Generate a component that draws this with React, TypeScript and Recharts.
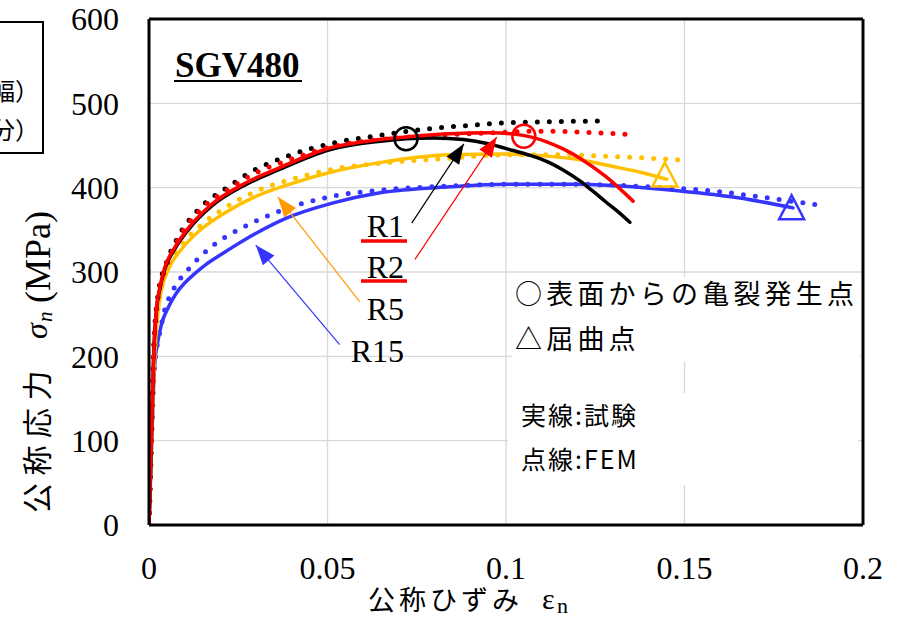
import React from 'react';
import { ComposedChart, Line, Scatter, XAxis, YAxis, CartesianGrid, ReferenceLine } from 'recharts';

const SERIF = '"Liberation Serif", "Times New Roman", serif';
const JP = '"Noto Sans CJK JP", "Noto Sans", sans-serif';

const BLACK = '#000000';
const RED = '#ff0000';
const ORANGE = '#ffc000';
const ORANGE_ARROW = '#ff9900';
const BLUE = '#3535ff';

const xTicks = [0, 0.05, 0.1, 0.15, 0.2];
const yTicks = [0, 100, 200, 300, 400, 500, 600];

// R1 試験 (黒 実線)
const r1TestStrain = [0, 0.0004, 0.0008, 0.0013, 0.0021, 0.003, 0.0044, 0.0072, 0.011, 0.0175, 0.0268, 0.0362, 0.0506, 0.0647, 0.072, 0.08, 0.088, 0.095, 0.102, 0.107, 0.112, 0.116, 0.1207, 0.124, 0.128, 0.1315, 0.1347];
const r1TestStress = [0, 60, 125, 200, 255, 279, 303, 327, 350, 378, 403, 421, 445, 455, 458, 459, 457, 452, 444, 438, 430, 421, 408, 397, 383, 371, 359];
// R1 FEM (黒 点線)
const r1FemStrain = [0, 0.0004, 0.0008, 0.0013, 0.0026, 0.0049, 0.0082, 0.0138, 0.0222, 0.0287, 0.0385, 0.0516, 0.0647, 0.0786, 0.09, 0.1, 0.11, 0.1263];
const r1FemStress = [0, 65, 130, 207, 275, 311, 342, 374, 401, 419, 437, 453, 462, 470, 474, 477, 478, 479];

// R2 試験 (赤 実線)
const r2TestStrain = [0, 0.0004, 0.0008, 0.0013, 0.0021, 0.003, 0.0044, 0.0072, 0.011, 0.0175, 0.0268, 0.0362, 0.0506, 0.0647, 0.0743, 0.0843, 0.0955, 0.1048, 0.111, 0.116, 0.1207, 0.128, 0.1356];
const r2TestStress = [0, 60, 125, 200, 257, 281, 305, 329, 352, 380, 405, 423, 447, 457, 461, 464, 465, 462, 455, 446, 435, 413, 384];
// R2 FEM (赤 点線)
const r2FemStrain = [0, 0.0004, 0.0008, 0.0013, 0.0026, 0.0049, 0.0082, 0.0138, 0.0222, 0.0287, 0.0385, 0.0516, 0.0647, 0.08, 0.095, 0.11, 0.12, 0.1347];
const r2FemStress = [0, 65, 130, 205, 272, 307, 339, 371, 398, 415, 432, 449, 457, 462, 465, 467, 466, 463];

// R5 試験 (橙 実線)
const r5TestStrain = [0, 0.0004, 0.0008, 0.0014, 0.0026, 0.0035, 0.0054, 0.0091, 0.0147, 0.0212, 0.0296, 0.0408, 0.0506, 0.065, 0.0843, 0.1, 0.11, 0.1207, 0.13, 0.138, 0.145];
const r5TestStress = [0, 55, 115, 185, 255, 279, 303, 327, 351, 370, 389, 406, 418, 430, 439, 440, 438, 433, 425, 418, 410];
// R5 FEM (橙 点線)
const r5FemStrain = [0, 0.0004, 0.0008, 0.0014, 0.0026, 0.0035, 0.0054, 0.0091, 0.0147, 0.0212, 0.0296, 0.0408, 0.0516, 0.065, 0.0843, 0.1, 0.115, 0.13, 0.1487];
const r5FemStress = [0, 55, 115, 187, 259, 284, 308, 332, 356, 376, 395, 411, 422, 429, 435, 439, 439, 437, 433];

// R15 試験 (青 実線)
const r15TestStrain = [0, 0.0004, 0.0008, 0.0012, 0.0016, 0.0024, 0.0035, 0.0054, 0.0075, 0.01, 0.0128, 0.016, 0.0203, 0.0296, 0.038, 0.0516, 0.0647, 0.0843, 0.1, 0.12, 0.1487, 0.165, 0.1804];
const r15TestStress = [0, 50, 105, 155, 190, 216, 238, 258, 274, 287, 298, 309, 321, 345, 363, 382, 394, 401, 404, 404, 396, 388, 376];
// R15 FEM (青 点線)
const r15FemStrain = [0, 0.0004, 0.0008, 0.0012, 0.0016, 0.0021, 0.003, 0.0044, 0.0068, 0.011, 0.0175, 0.0259, 0.0352, 0.0516, 0.0647, 0.085, 0.1, 0.12, 0.14, 0.158, 0.173, 0.1865];
const r15FemStress = [0, 55, 110, 160, 190, 208, 228, 255, 279, 303, 330, 352, 370, 390, 397, 402, 404, 404, 401, 396, 388, 380];

// ○ 表面からの亀裂発生点
const crackStrain = [0.072, 0.105];
const crackStress = [458, 461];
const crackColors = [BLACK, RED];

// △ 屈曲点
const bucklingStrain = [0.1445, 0.18];
const bucklingStress = [411, 372];
const bucklingColors = [ORANGE, BLUE];

// 引出し矢印 (R1, R2, R5, R15)
const arrowTailStrain = [0.0736, 0.0745, 0.059, 0.0534];
const arrowTailStress = [358, 315, 265, 214];
const arrowTipStrain = [0.0882, 0.0974, 0.0361, 0.0299];
const arrowTipStress = [452, 460, 389, 332];
const arrowColors = [BLACK, RED, ORANGE_ARROW, BLUE];

const toPoints = (xs: number[], ys: number[]) => xs.map((x, i) => ({ x, y: ys[i] }));

const curves = [
  { key: 'r15Fem', data: toPoints(r15FemStrain, r15FemStress), color: BLUE, dotted: true },
  { key: 'r15Test', data: toPoints(r15TestStrain, r15TestStress), color: BLUE, dotted: false },
  { key: 'r5Fem', data: toPoints(r5FemStrain, r5FemStress), color: ORANGE, dotted: true },
  { key: 'r5Test', data: toPoints(r5TestStrain, r5TestStress), color: ORANGE, dotted: false },
  { key: 'r1Fem', data: toPoints(r1FemStrain, r1FemStress), color: BLACK, dotted: true },
  { key: 'r2Fem', data: toPoints(r2FemStrain, r2FemStress), color: RED, dotted: true },
  { key: 'r1Test', data: toPoints(r1TestStrain, r1TestStress), color: BLACK, dotted: false },
  { key: 'r2Test', data: toPoints(r2TestStrain, r2TestStress), color: RED, dotted: false },
];

const markers = [
  ...crackStrain.map((x, i) => ({ x, y: crackStress[i], kind: 'circle', color: crackColors[i] })),
  ...bucklingStrain.map((x, i) => ({ x, y: bucklingStress[i], kind: 'triangle', color: bucklingColors[i] })),
];

const arrows = arrowColors.map((color, i) => ({
  color,
  data: [
    { x: arrowTailStrain[i], y: arrowTailStress[i] },
    { x: arrowTipStrain[i], y: arrowTipStress[i] },
  ],
}));

const MarkerShape = (props: any) => {
  const { cx, cy, payload } = props;
  if (cx == null || cy == null) return <g />;
  if (payload.kind === 'circle') {
    return <circle cx={cx} cy={cy} r={11.5} fill="none" stroke={payload.color} strokeWidth={2.5} />;
  }
  const pts = `${cx},${cy - 16} ${cx - 12.5},${cy + 8} ${cx + 12.5},${cy + 8}`;
  return <polygon points={pts} fill="none" stroke={payload.color} strokeWidth={2.5} strokeLinejoin="miter" />;
};

const arrowHead = (color: string) => (props: any) => {
  const { cx, cy, index, points } = props;
  if (index !== 1 || cx == null || cy == null) return <g key={`ah-${index}`} />;
  const prev = points && points[0] ? points[0] : { x: cx - 1, y: cy + 1 };
  const ang = Math.atan2(cy - prev.y, cx - prev.x);
  const len = 20;
  const half = 7.5;
  const bx = cx - len * Math.cos(ang);
  const by = cy - len * Math.sin(ang);
  const px = -Math.sin(ang) * half;
  const py = Math.cos(ang) * half;
  return (
    <polygon
      key={`ah-${index}`}
      points={`${cx},${cy} ${bx + px},${by + py} ${bx - px},${by - py}`}
      fill={color}
    />
  );
};

const Annotations = () => (
  <svg width={901} height={618} style={{ position: 'absolute', left: 0, top: 0, pointerEvents: 'none' }}>
    {/* 左側で切れている凡例枠 */}
    <rect x={-20} y={22} width={63} height={131} fill="#fff" stroke="#000" strokeWidth={2} />
    <text x={39} y={100} textAnchor="end" fontFamily={JP} fontSize={24} fill="#000">（板幅）</text>
    <text x={39} y={139} textAnchor="end" fontFamily={JP} fontSize={24} fill="#000">（部分）</text>

    {/* 試験体名 */}
    <text x={175} y={77} fontFamily={SERIF} fontWeight="bold" fontSize={35} fill="#000">SGV480</text>
    <line x1={174} x2={302} y1={81} y2={81} stroke="#000" strokeWidth={2} />

    {/* R ラベル */}
    <text x={404} y={237} textAnchor="end" fontFamily={SERIF} fontSize={32} fill="#000">R1</text>
    <line x1={361} x2={407} y1={241} y2={241} stroke={RED} strokeWidth={3.5} />
    <text x={404} y={278} textAnchor="end" fontFamily={SERIF} fontSize={32} fill="#000">R2</text>
    <line x1={361} x2={407} y1={281} y2={281} stroke={RED} strokeWidth={3.5} />
    <text x={404} y={320} textAnchor="end" fontFamily={SERIF} fontSize={32} fill="#000">R5</text>
    <text x={404} y={362} textAnchor="end" fontFamily={SERIF} fontSize={32} fill="#000">R15</text>

    {/* 凡例テキスト */}
    <rect x={512} y={277} width={348} height={85} fill="#fff" />
    <text x={515} y={304} fontFamily={JP} fontSize={27} letterSpacing={4.2} fill="#000">○表面からの亀裂発生点</text>
    <text x={515} y={349} fontFamily={JP} fontSize={27} letterSpacing={4.2} fill="#000">△屈曲点</text>
    <rect x={508} y={393} width={350} height={92} fill="#fff" />
    <text x={521} y={425} fontFamily={JP} fontSize={25} letterSpacing={2} fill="#000">実線:試験</text>
    <text x={521} y={469} fontFamily={JP} fontSize={25} letterSpacing={2} fill="#000">点線:FEM</text>

    {/* X 軸タイトル */}
    <text x={368} y={610} fontFamily={JP} fontSize={27} letterSpacing={4} fill="#000">公称ひずみ</text>
    <text x={542} y={609} fontFamily={SERIF} fontSize={30} fill="#000">ε</text>
    <text x={557} y={613} fontFamily={SERIF} fontSize={22} fill="#000">n</text>

    {/* Y 軸タイトル */}
    <g transform="rotate(-90)">
      <text x={-513} y={48} fontFamily={JP} fontSize={30} letterSpacing={7.5} fill="#000">公称応力</text>
      <text x={-339} y={47} fontFamily={SERIF} fontStyle="italic" fontSize={32} fill="#000">σ</text>
      <text x={-322} y={52} fontFamily={SERIF} fontStyle="italic" fontSize={21} fill="#000">n</text>
      <text x={-303} y={50} fontFamily={SERIF} fontSize={36} fill="#000">(MPa)</text>
    </g>
  </svg>
);

const tickStyle = { fill: '#000', fontSize: 32, fontFamily: SERIF };

export default function App() {
  return (
    <div style={{ position: 'absolute', left: 0, top: 0, width: 901, height: 618, background: '#fff' }}>
      <ComposedChart width={901} height={618} margin={{ top: 19, right: 38, bottom: 0, left: 0 }}>
        <CartesianGrid stroke="#d9d9d9" strokeWidth={1.3} />
        <XAxis
          type="number"
          dataKey="x"
          domain={[0, 0.2]}
          ticks={xTicks}
          height={93}
          tickLine={false}
          tickSize={6}
          tickMargin={25}
          axisLine={{ stroke: '#000', strokeWidth: 3 }}
          tick={tickStyle}
          allowDataOverflow
        />
        <YAxis
          type="number"
          domain={[0, 600]}
          ticks={yTicks}
          width={149}
          tickLine={false}
          tickSize={6}
          tickMargin={24}
          axisLine={{ stroke: '#000', strokeWidth: 3 }}
          tick={tickStyle}
          allowDataOverflow
        />
        <ReferenceLine y={600} stroke="#000" strokeWidth={3} />
        <ReferenceLine x={0.2} stroke="#000" strokeWidth={3} />
        {curves.map((c) => (
          <Line
            key={c.key}
            data={c.data}
            dataKey="y"
            type="monotone"
            stroke={c.color}
            strokeWidth={c.dotted ? 5 : 3.5}
            strokeDasharray={c.dotted ? '0 12' : undefined}
            strokeLinecap="round"
            dot={false}
            activeDot={false}
            isAnimationActive={false}
          />
        ))}
        {arrows.map((a, i) => (
          <Line
            key={`arrow-${i}`}
            data={a.data}
            dataKey="y"
            type="linear"
            stroke={a.color}
            strokeWidth={1.2}
            dot={arrowHead(a.color)}
            activeDot={false}
            isAnimationActive={false}
          />
        ))}
        <Scatter data={markers} dataKey="y" shape={MarkerShape} isAnimationActive={false} />
      </ComposedChart>
      <Annotations />
    </div>
  );
}
